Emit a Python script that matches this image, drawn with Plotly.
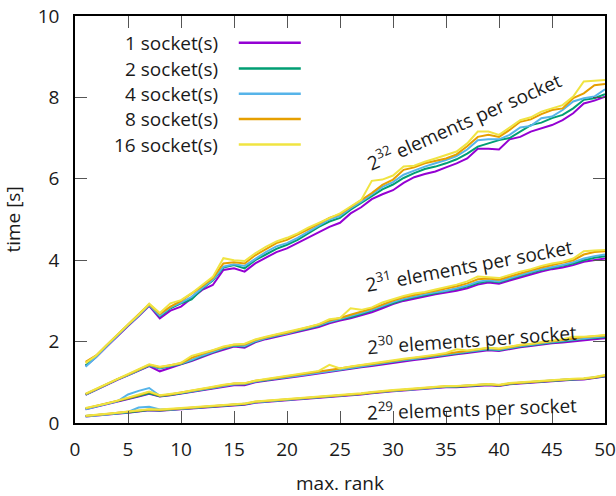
import plotly.graph_objects as go

ranks = list(range(1, 51))
socket_names = ["1 socket(s)", "2 socket(s)", "4 socket(s)", "8 socket(s)", "16 socket(s)"]
colors = ["#9400d3", "#009e73", "#56b4e9", "#e69f00", "#f0e442"]
group_exps = ["32", "31", "30", "29"]
x_ticks = [0, 5, 10, 15, 20, 25, 30, 35, 40, 45, 50]
y_ticks = [0, 2, 4, 6, 8, 10]

# 2^32 elements per socket
t32_s1 = [1.40,1.62,1.88,2.14,2.38,2.62,2.88,2.57,2.76,2.86,3.06,3.27,3.39,3.76,3.80,3.72,3.92,4.07,4.20,4.29,4.42,4.57,4.70,4.82,4.92,5.15,5.30,5.50,5.62,5.72,5.90,6.04,6.12,6.18,6.28,6.38,6.50,6.74,6.74,6.72,6.97,7.03,7.16,7.24,7.32,7.44,7.61,7.85,7.92,8.02]
t32_s2 = [1.42,1.64,1.90,2.16,2.40,2.64,2.90,2.62,2.82,2.94,3.04,3.30,3.50,3.82,3.88,3.80,4.00,4.14,4.28,4.38,4.50,4.66,4.82,4.95,5.04,5.24,5.40,5.58,5.74,5.86,6.02,6.14,6.24,6.30,6.38,6.48,6.62,6.79,6.87,6.95,7.00,7.16,7.32,7.38,7.49,7.57,7.73,7.94,7.98,8.08]
t32_s4 = [1.38,1.62,1.89,2.15,2.40,2.64,2.90,2.64,2.84,2.96,3.10,3.32,3.52,3.84,3.90,3.86,4.04,4.20,4.34,4.42,4.55,4.70,4.86,5.00,5.09,5.28,5.44,5.62,5.80,5.92,6.10,6.20,6.30,6.38,6.46,6.56,6.72,6.95,6.97,6.97,7.08,7.26,7.30,7.49,7.53,7.69,7.90,7.98,8.02,8.20]
t32_s8 = [1.50,1.66,1.92,2.17,2.41,2.65,2.92,2.68,2.86,3.00,3.17,3.36,3.56,3.92,3.95,3.92,4.12,4.27,4.42,4.50,4.62,4.76,4.90,5.04,5.13,5.30,5.46,5.65,5.85,5.98,6.22,6.28,6.38,6.44,6.50,6.60,6.80,7.03,7.08,7.03,7.20,7.40,7.46,7.59,7.69,7.73,7.98,8.10,8.30,8.33]
t32_s16 = [1.47,1.66,1.92,2.18,2.42,2.66,2.93,2.70,2.94,3.02,3.19,3.39,3.59,4.05,4.00,3.98,4.17,4.33,4.46,4.55,4.66,4.80,4.92,5.05,5.15,5.32,5.48,5.95,5.98,6.08,6.30,6.32,6.42,6.50,6.58,6.67,6.87,7.16,7.16,7.08,7.26,7.44,7.51,7.65,7.73,7.81,8.02,8.39,8.41,8.43]

# 2^31 elements per socket
t31_s1 = [0.69,0.82,0.94,1.06,1.17,1.29,1.40,1.27,1.36,1.44,1.52,1.62,1.72,1.80,1.88,1.85,1.98,2.06,2.12,2.17,2.24,2.30,2.36,2.45,2.52,2.57,2.64,2.72,2.82,2.92,3.00,3.06,3.11,3.16,3.20,3.25,3.31,3.40,3.45,3.42,3.50,3.58,3.65,3.72,3.78,3.82,3.88,3.96,4.00,4.04]
t31_s2 = [0.70,0.83,0.95,1.07,1.18,1.30,1.41,1.34,1.39,1.45,1.54,1.65,1.74,1.83,1.90,1.88,2.00,2.08,2.14,2.19,2.26,2.32,2.39,2.48,2.55,2.60,2.68,2.76,2.86,2.95,3.03,3.09,3.14,3.19,3.23,3.29,3.35,3.44,3.49,3.46,3.54,3.62,3.69,3.76,3.81,3.86,3.92,4.00,4.06,4.10]
t31_s4 = [0.70,0.83,0.95,1.07,1.18,1.30,1.42,1.35,1.40,1.46,1.55,1.66,1.75,1.84,1.91,1.89,2.01,2.09,2.15,2.20,2.27,2.33,2.40,2.49,2.56,2.62,2.70,2.78,2.88,2.97,3.05,3.11,3.16,3.21,3.25,3.31,3.38,3.47,3.51,3.48,3.56,3.64,3.71,3.78,3.83,3.88,3.95,4.04,4.10,4.14]
t31_s8 = [0.71,0.84,0.96,1.08,1.19,1.31,1.43,1.37,1.42,1.47,1.60,1.70,1.78,1.86,1.92,1.93,2.04,2.11,2.17,2.22,2.29,2.35,2.42,2.52,2.58,2.66,2.73,2.81,2.91,3.01,3.09,3.15,3.20,3.25,3.30,3.36,3.43,3.53,3.55,3.52,3.60,3.68,3.75,3.82,3.88,3.93,4.00,4.14,4.20,4.22]
t31_s16 = [0.72,0.84,0.96,1.08,1.20,1.32,1.44,1.38,1.42,1.48,1.65,1.72,1.79,1.88,1.93,1.95,2.05,2.12,2.18,2.23,2.30,2.36,2.43,2.55,2.58,2.82,2.78,2.84,2.96,3.04,3.12,3.18,3.22,3.28,3.34,3.40,3.48,3.60,3.58,3.56,3.64,3.72,3.78,3.86,3.92,3.96,4.04,4.22,4.24,4.25]

# 2^30 elements per socket
t30_s1 = [0.34,0.40,0.46,0.52,0.58,0.65,0.72,0.65,0.68,0.72,0.76,0.80,0.85,0.89,0.93,0.93,1.00,1.04,1.07,1.10,1.14,1.18,1.22,1.26,1.29,1.33,1.37,1.40,1.44,1.48,1.52,1.55,1.58,1.62,1.65,1.69,1.72,1.76,1.79,1.77,1.82,1.86,1.89,1.93,1.96,1.98,2.01,2.04,2.06,2.08]
t30_s2 = [0.35,0.41,0.47,0.53,0.59,0.66,0.73,0.66,0.69,0.73,0.77,0.82,0.86,0.91,0.95,0.95,1.02,1.05,1.09,1.12,1.16,1.20,1.24,1.28,1.31,1.35,1.39,1.42,1.46,1.50,1.54,1.57,1.60,1.64,1.67,1.71,1.74,1.78,1.81,1.79,1.84,1.88,1.91,1.95,1.98,2.00,2.04,2.07,2.09,2.11]
t30_s4 = [0.34,0.41,0.47,0.53,0.70,0.79,0.86,0.67,0.70,0.74,0.78,0.82,0.87,0.91,0.95,0.96,1.02,1.06,1.09,1.12,1.16,1.20,1.24,1.28,1.32,1.36,1.40,1.43,1.47,1.51,1.55,1.58,1.61,1.65,1.68,1.72,1.75,1.79,1.82,1.80,1.85,1.89,1.92,1.96,1.99,2.02,2.05,2.08,2.11,2.13]
t30_s8 = [0.36,0.42,0.48,0.54,0.61,0.68,0.76,0.67,0.70,0.75,0.79,0.84,0.88,0.93,0.97,0.97,1.04,1.07,1.11,1.14,1.18,1.22,1.26,1.31,1.34,1.38,1.42,1.45,1.49,1.53,1.57,1.60,1.63,1.67,1.70,1.74,1.77,1.81,1.84,1.82,1.87,1.91,1.94,1.98,2.01,2.04,2.08,2.11,2.13,2.15]
t30_s16 = [0.37,0.42,0.48,0.55,0.62,0.69,0.77,0.68,0.71,0.75,0.80,0.84,0.89,0.94,0.97,0.98,1.04,1.08,1.12,1.15,1.19,1.23,1.28,1.43,1.34,1.39,1.43,1.46,1.50,1.54,1.58,1.61,1.64,1.68,1.72,1.81,1.78,1.82,1.85,1.83,1.88,1.92,1.95,1.99,2.02,2.06,2.12,2.12,2.14,2.16]

# 2^29 elements per socket
t29_s1 = [0.16,0.18,0.20,0.23,0.25,0.28,0.31,0.30,0.32,0.34,0.36,0.38,0.40,0.42,0.44,0.45,0.50,0.52,0.54,0.55,0.57,0.60,0.62,0.64,0.66,0.68,0.70,0.73,0.76,0.78,0.80,0.82,0.84,0.86,0.88,0.88,0.90,0.92,0.93,0.91,0.95,0.97,0.99,1.01,1.02,1.04,1.06,1.07,1.10,1.14]
t29_s2 = [0.17,0.19,0.21,0.24,0.26,0.29,0.32,0.31,0.33,0.35,0.37,0.39,0.41,0.43,0.45,0.46,0.51,0.53,0.55,0.56,0.58,0.61,0.63,0.65,0.67,0.69,0.71,0.74,0.77,0.79,0.81,0.83,0.85,0.87,0.89,0.89,0.91,0.93,0.94,0.92,0.96,0.98,1.00,1.02,1.03,1.05,1.07,1.08,1.11,1.15]
t29_s4 = [0.16,0.18,0.21,0.24,0.27,0.38,0.40,0.33,0.33,0.35,0.37,0.39,0.41,0.43,0.45,0.47,0.51,0.53,0.55,0.57,0.59,0.61,0.63,0.66,0.68,0.70,0.72,0.75,0.77,0.79,0.82,0.84,0.86,0.88,0.89,0.90,0.92,0.94,0.95,0.93,0.97,0.99,1.01,1.03,1.04,1.06,1.08,1.09,1.12,1.16]
t29_s8 = [0.17,0.19,0.22,0.25,0.27,0.30,0.33,0.32,0.34,0.36,0.38,0.40,0.42,0.44,0.46,0.47,0.52,0.54,0.56,0.57,0.59,0.62,0.64,0.66,0.68,0.70,0.72,0.75,0.78,0.80,0.82,0.84,0.86,0.88,0.90,0.90,0.92,0.94,0.95,0.93,0.97,0.99,1.01,1.03,1.04,1.06,1.08,1.09,1.12,1.17]
t29_s16 = [0.18,0.20,0.22,0.25,0.28,0.31,0.34,0.33,0.35,0.37,0.39,0.41,0.43,0.45,0.47,0.48,0.53,0.55,0.57,0.58,0.60,0.63,0.65,0.67,0.69,0.71,0.73,0.76,0.79,0.81,0.83,0.85,0.87,0.89,0.91,0.91,0.93,0.95,0.96,0.94,0.98,1.00,1.02,1.04,1.05,1.07,1.09,1.10,1.13,1.18]

groups = [
    [t32_s1, t32_s2, t32_s4, t32_s8, t32_s16],
    [t31_s1, t31_s2, t31_s4, t31_s8, t31_s16],
    [t30_s1, t30_s2, t30_s4, t30_s8, t30_s16],
    [t29_s1, t29_s2, t29_s4, t29_s8, t29_s16],
]

FONT = "Open Sans"
FS = 19
TXT = "#1a1a1a"

fig = go.Figure()
for gi, series in enumerate(groups):
    for si, vals in enumerate(series):
        fig.add_trace(go.Scatter(
            x=ranks, y=vals, mode="lines",
            line=dict(color=colors[si], width=2),
            name=socket_names[si], showlegend=False,
        ))

# group labels (centre position / angle of each label)
label_pos = [(36.7, 7.42, -24), (37.2, 3.88, -10.5), (37.45, 2.06, -4), (37.45, 0.37, -2)]
annotations = []
for exp, (lx, ly, ang) in zip(group_exps, label_pos):
    annotations.append(dict(
        x=lx, y=ly, xref="x", yref="y", showarrow=False,
        text=f"2<sup>{exp}</sup> elements per socket", textangle=ang,
        font=dict(family=FONT, size=FS, color=TXT),
    ))

# manual legend: text left, line sample right
shapes = []
leg_y = [0.934, 0.871, 0.809, 0.747, 0.684]
for name, col, yy in zip(socket_names, colors, leg_y):
    annotations.append(dict(
        x=0.2736, y=yy, xref="paper", yref="paper", xanchor="right", yanchor="middle",
        showarrow=False, text=name, font=dict(family=FONT, size=FS, color=TXT),
    ))
    shapes.append(dict(
        type="line", xref="paper", yref="paper", x0=0.309, x1=0.426, y0=yy, y1=yy,
        line=dict(color=col, width=2.5),
    ))

axis_common = dict(
    showline=True, linecolor="black", linewidth=1.5, mirror="ticks",
    ticks="inside", ticklen=12, tickwidth=1.2, tickcolor="#555555",
    showgrid=False, zeroline=False, automargin=False, ticklabeloverflow="allow",
    tickfont=dict(family=FONT, size=FS, color=TXT),
)

fig.update_layout(
    width=616, height=496,
    margin=dict(l=75, r=11, t=16, b=73),
    paper_bgcolor="white", plot_bgcolor="white",
    xaxis=dict(range=[0, 50], tickmode="array", tickvals=x_ticks,
               title=dict(text="max. rank", font=dict(family=FONT, size=FS, color=TXT), standoff=22),
               ticklabelstandoff=8, **axis_common),
    yaxis=dict(range=[0, 10], tickmode="array", tickvals=y_ticks,
               title=dict(text="time [s]", font=dict(family=FONT, size=FS, color=TXT), standoff=12),
               ticklabelstandoff=10, **axis_common),
    annotations=annotations, shapes=shapes,
    showlegend=False,
)

fig.write_html("out.html")
